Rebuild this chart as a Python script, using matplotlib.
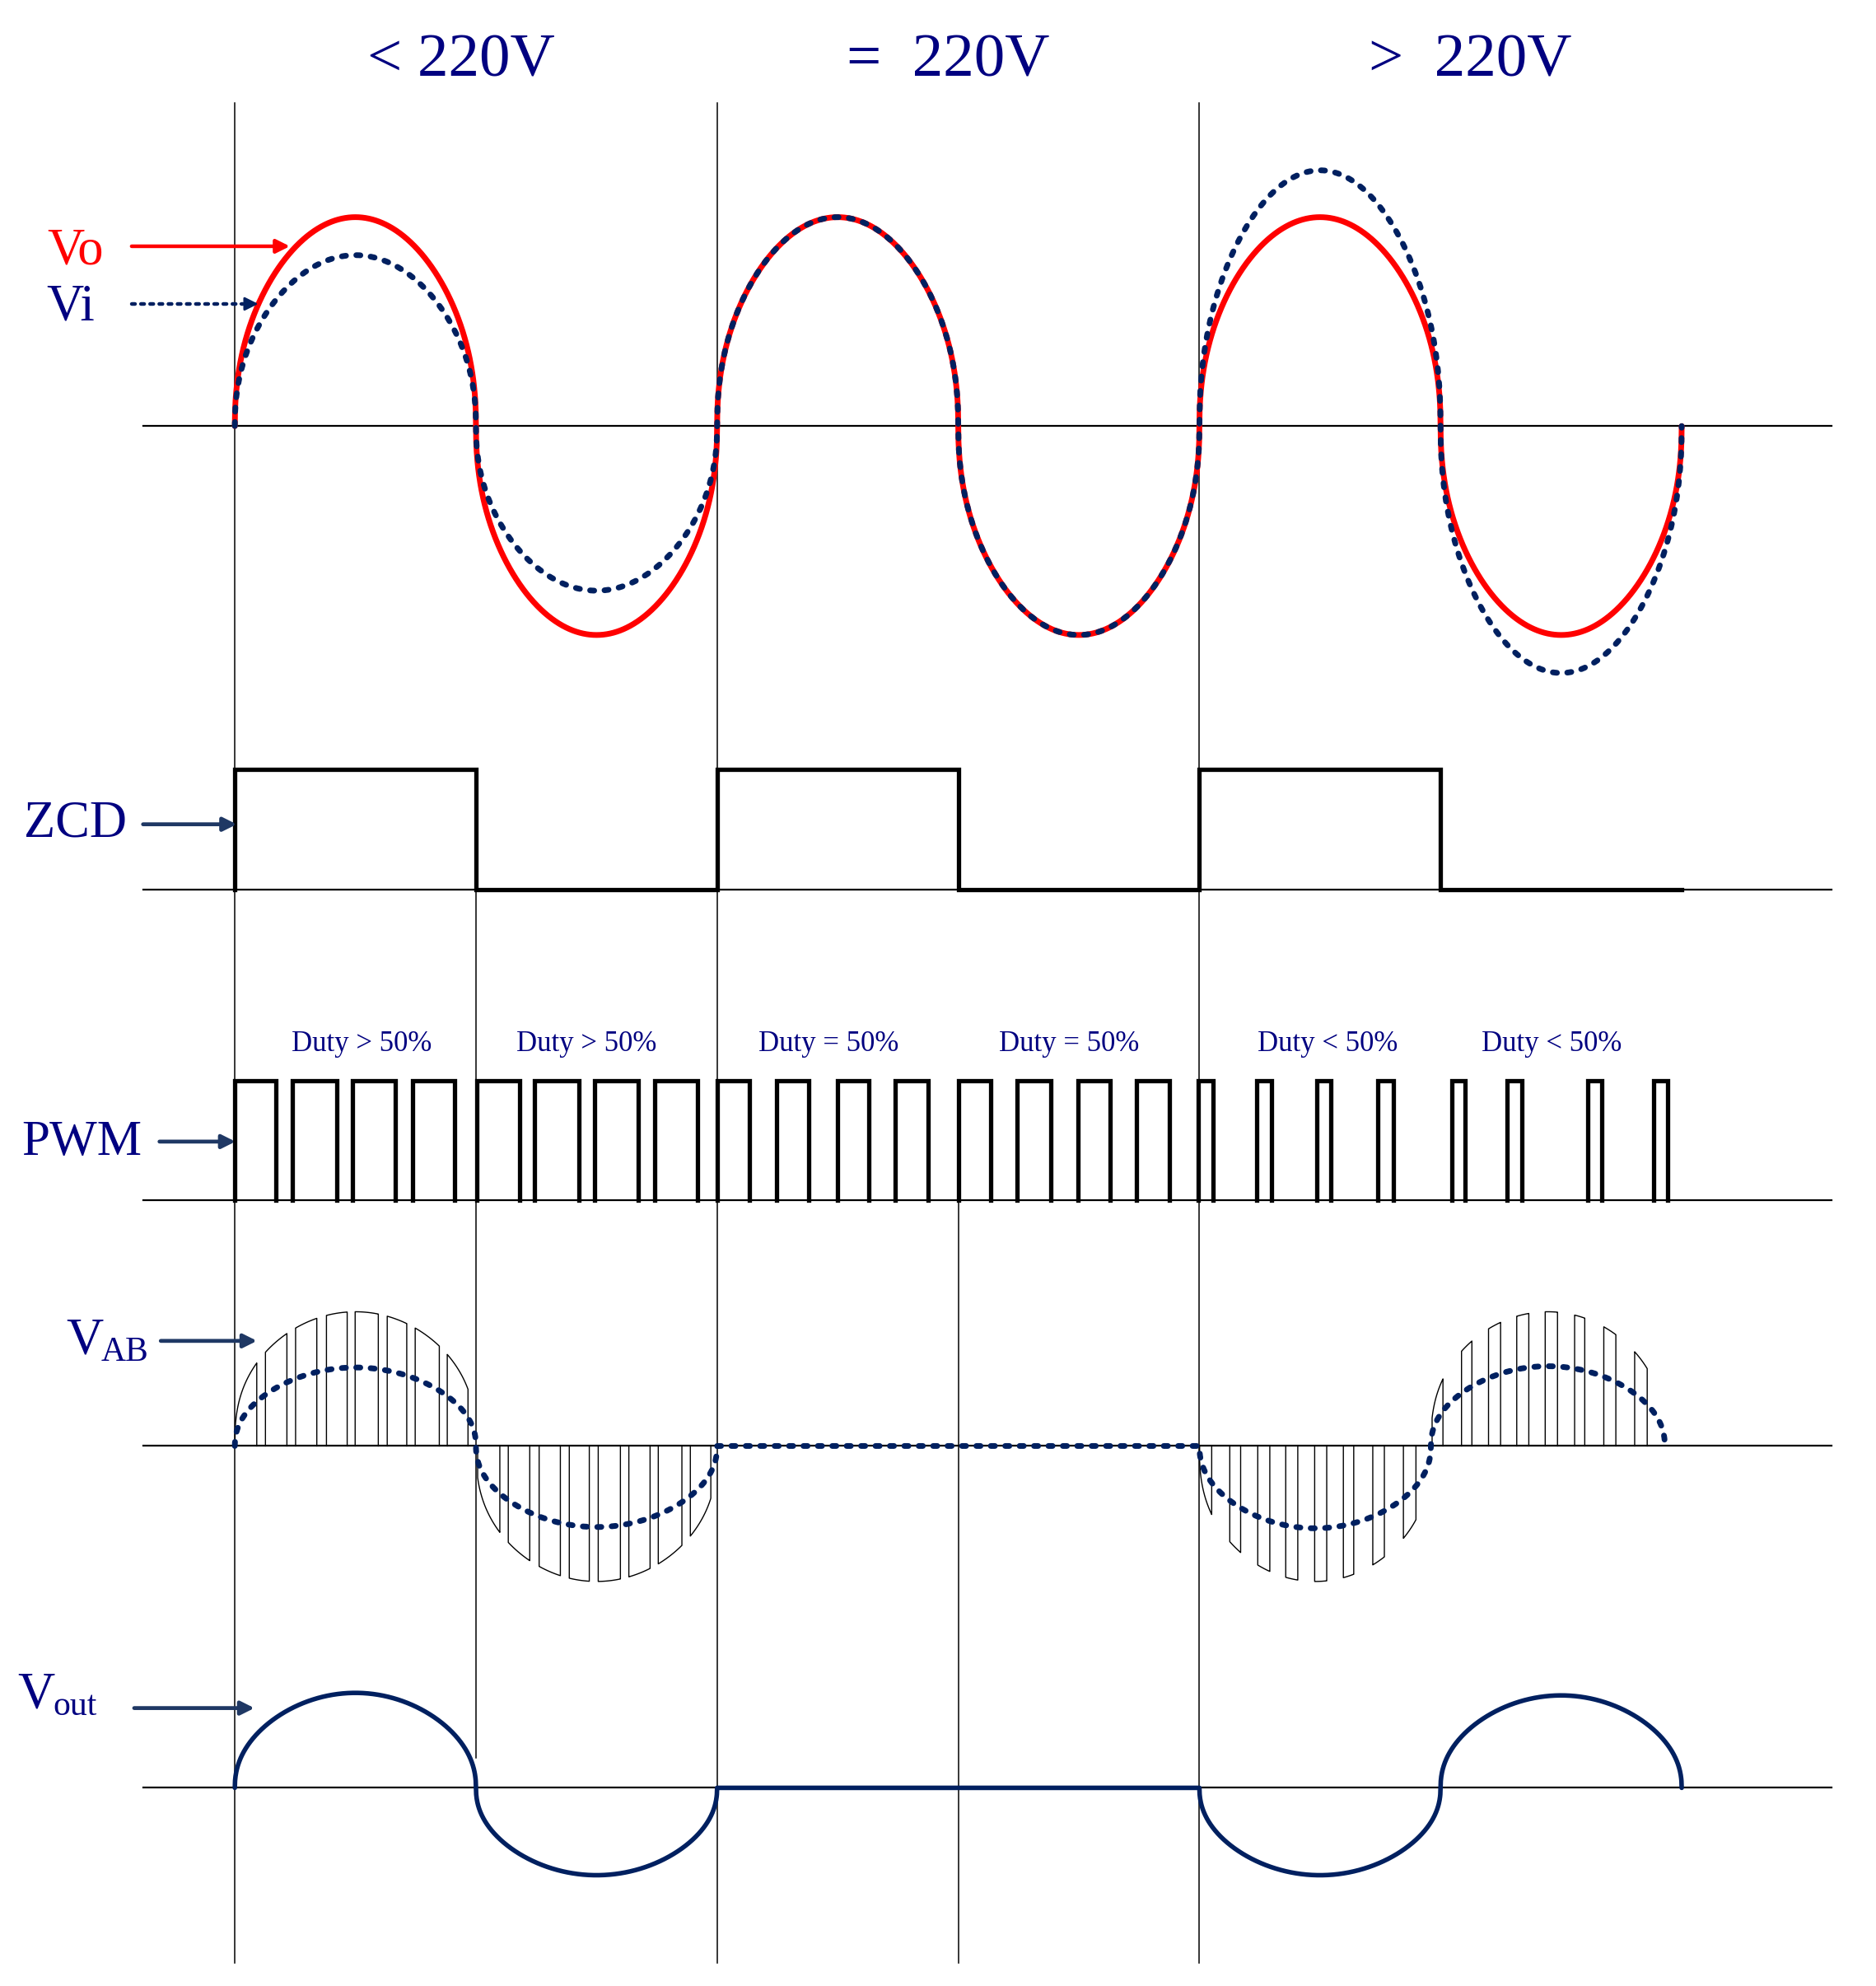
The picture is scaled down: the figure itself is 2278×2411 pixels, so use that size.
import numpy as np
import matplotlib.pyplot as plt

plt.rcParams["font.family"] = ["Liberation Serif", "DejaVu Serif"]

# time axis is counted in half mains cycles: 0-2 "<220V", 2-4 "=220V", 4-6 ">220V"
region_titles = ["< 220V", "=  220V", ">  220V"]
region_title_t = [0.937, 2.958, 5.124]

# top panel, heights of each half cycle
vo_amp = [165, -165, 165, -165, 165, -165]
vi_amp = [135, -130, 165, -165, 202, -195]

zcd_level = [1, 0, 1, 0, 1, 0]

pwm_rise = [0.000, 0.239, 0.489, 0.736, 1.004, 1.244, 1.491, 1.740,
            2.001, 2.245, 2.498, 2.740, 3.002, 3.245, 3.495, 3.738,
            3.995, 4.236, 4.486, 4.739, 5.046, 5.277, 5.609, 5.884]
pwm_fall = [0.171, 0.423, 0.664, 0.912, 1.180, 1.427, 1.672, 1.919,
            2.135, 2.381, 2.630, 2.875, 3.135, 3.383, 3.631, 3.877,
            4.057, 4.300, 4.545, 4.803, 5.101, 5.336, 5.669, 5.943]

duty_labels = ["Duty > 50%", "Duty > 50%", "Duty = 50%",
               "Duty = 50%", "Duty < 50%", "Duty < 50%"]
duty_t = [0.527, 1.460, 2.462, 3.460, 4.531, 5.460]

# chopped V_AB lobes
vab_lobe_start = [0.0, 1.0, 4.0, 4.96]
vab_lobe_end = [1.0, 2.0, 4.96, 5.93]
vab_amp = [106, -107, -107, 106]
vab_vi_amp = [62, -64, -65, 63]
vab_bar_start = [0.001, 0.127, 0.252, 0.380, 0.499, 0.632, 0.748, 0.881,
                 1.007, 1.134, 1.262, 1.387, 1.507, 1.634, 1.756, 1.889,
                 4.001, 4.126, 4.242, 4.358, 4.478, 4.597, 4.719, 4.846,
                 4.965, 5.087, 5.199, 5.316, 5.434, 5.556, 5.677, 5.805]
vab_bar_end = [0.091, 0.216, 0.340, 0.466, 0.595, 0.713, 0.848, 0.967,
               1.099, 1.223, 1.350, 1.470, 1.599, 1.722, 1.854, 1.974,
               4.051, 4.171, 4.292, 4.408, 4.528, 4.640, 4.767, 4.898,
               5.010, 5.130, 5.249, 5.366, 5.485, 5.598, 5.727, 5.857]

vout_amp = [75, -69, 0, 0, -69, 73]

# layout, in px of a 1482 x 1568 drawing
X0, HALF = 185.5, 190.5
W, H = 1482, 1568.5
BASE = {"top": 336.5, "zcd": 702.5, "pwm": 948, "vab": 1142, "vout": 1412}
ZCD_H, PWM_H = 95, 94.5
NAVY = "#000080"
DARK = "#002060"
ARROW = "#1f3864"
DOTS = (0, (0.72, 1.8))


def px(x):
    """horizontal drawing px -> time units"""
    return (x - X0) / HALF


def lobe(t, t0, t1, amp, p=0.45):
    u = np.clip((t - t0) / (t1 - t0), 0, 1)
    return amp * np.sin(np.pi * u) ** p


def half_cycles(t, amps, p=0.45):
    y = np.zeros_like(t)
    for k, a in enumerate(amps):
        m = (t >= k) & (t <= k + 1)
        y[m] = lobe(t[m], k, k + 1, a, p)
    return y


def arrow(x0, x1, y, color=ARROW, lw=3.4):
    ax.annotate("", xy=(px(x1), y), xytext=(px(x0), y),
                arrowprops=dict(arrowstyle="-|>,head_length=0.7,head_width=0.35",
                                color=color, lw=lw, shrinkA=0, shrinkB=0,
                                mutation_scale=14))


fig = plt.figure(figsize=(22.78, 24.11), dpi=100)
ax = fig.add_axes([0, 0, 1, 1])
ax.set_xlim(px(0), px(W))
ax.set_ylim(H, 0)
ax.axis("off")

# zero lines and time markers
for key in BASE:
    ax.plot([px(113), px(1447)], [BASE[key]] * 2, color="black", lw=1.6)
for tm in [0, 2, 4]:
    ax.plot([tm, tm], [81, 1550], color="black", lw=1.1)
ax.plot([1, 1], [BASE["zcd"], 1388], color="black", lw=1.1)
ax.plot([3, 3], [BASE["pwm"], 1550], color="black", lw=1.1)

# titles
for lab, tt in zip(region_titles, region_title_t):
    ax.text(tt, 60.3, lab, ha="center", va="baseline", fontsize=54, color=NAVY)

# Vo / Vi
t = np.linspace(0, 6, 6001)
ax.plot(t, BASE["top"] - half_cycles(t, vo_amp), color="red", lw=5,
        solid_capstyle="round")
ax.plot(t, BASE["top"] - half_cycles(t, vi_amp), color=DARK, lw=5,
        ls=DOTS, dash_capstyle="round")

ax.text(px(37), 208.8, "Vo", color="red", fontsize=45, va="baseline")
arrow(104, 229, 194.5, color="red", lw=3.2)
ax.text(px(36.5), 252.6, "Vi", color=NAVY, fontsize=45, va="baseline")
ax.plot([px(104), px(192)], [240, 240], color=DARK, lw=3.2,
        ls=(0, (0.9, 1.6)), dash_capstyle="round")
arrow(190, 204, 240, color=DARK, lw=2)

# ZCD
zx, zy = [0], [0]
for k, lv in enumerate(zcd_level):
    zx += [k, k + 1]
    zy += [lv, lv]
ax.plot(zx, BASE["zcd"] - ZCD_H * np.array(zy), color="black", lw=3.8,
        solid_joinstyle="miter")
ax.text(px(19), 660.5, "ZCD", color=NAVY, fontsize=45, va="baseline")
arrow(113, 187, 651)

# PWM
for r, f in zip(pwm_rise, pwm_fall):
    ax.plot([r, r, f, f], BASE["pwm"] - PWM_H * np.array([0, 1, 1, 0]),
            color="black", lw=3.8, solid_joinstyle="miter")
for lab, tt in zip(duty_labels, duty_t):
    ax.text(tt, 830, lab, ha="center", va="baseline", fontsize=25, color=NAVY)
ax.text(px(17), 912, "PWM", color=NAVY, fontsize=44, va="baseline")
arrow(126, 186, 901.6)

# V_AB
tv = np.linspace(0, vab_lobe_end[-1], 6001)
yv = np.zeros_like(tv)
for s, e, a in zip(vab_lobe_start, vab_lobe_end, vab_vi_amp):
    m = (tv >= s) & (tv <= e)
    yv[m] = lobe(tv[m], s, e, a)
for s, e in zip(vab_bar_start, vab_bar_end):
    mid = 0.5 * (s + e)
    k = [i for i in range(len(vab_lobe_start))
         if vab_lobe_start[i] <= mid <= vab_lobe_end[i]][0]
    tb = np.linspace(s, e, 40)
    yb = lobe(tb, vab_lobe_start[k], vab_lobe_end[k], vab_amp[k], p=0.38)
    ax.plot(np.r_[s, tb, e], BASE["vab"] - np.r_[0, yb, 0], color="black", lw=1.0)
ax.plot(tv, BASE["vab"] - yv, color=DARK, lw=5, ls=DOTS, dash_capstyle="round")
ax.text(px(52), 1069, "V", color=NAVY, fontsize=45, va="baseline")
ax.text(px(80), 1075, "AB", color=NAVY, fontsize=30, va="baseline")
arrow(127, 203, 1059)

# Vout
ax.plot(t, BASE["vout"] - half_cycles(t, vout_amp), color=DARK, lw=4,
        solid_capstyle="round")
ax.text(px(14), 1349, "V", color=NAVY, fontsize=45, va="baseline")
ax.text(px(42), 1354.5, "out", color=NAVY, fontsize=30, va="baseline")
arrow(106, 201, 1349)

fig.savefig("out.png", dpi=100, facecolor="white")
